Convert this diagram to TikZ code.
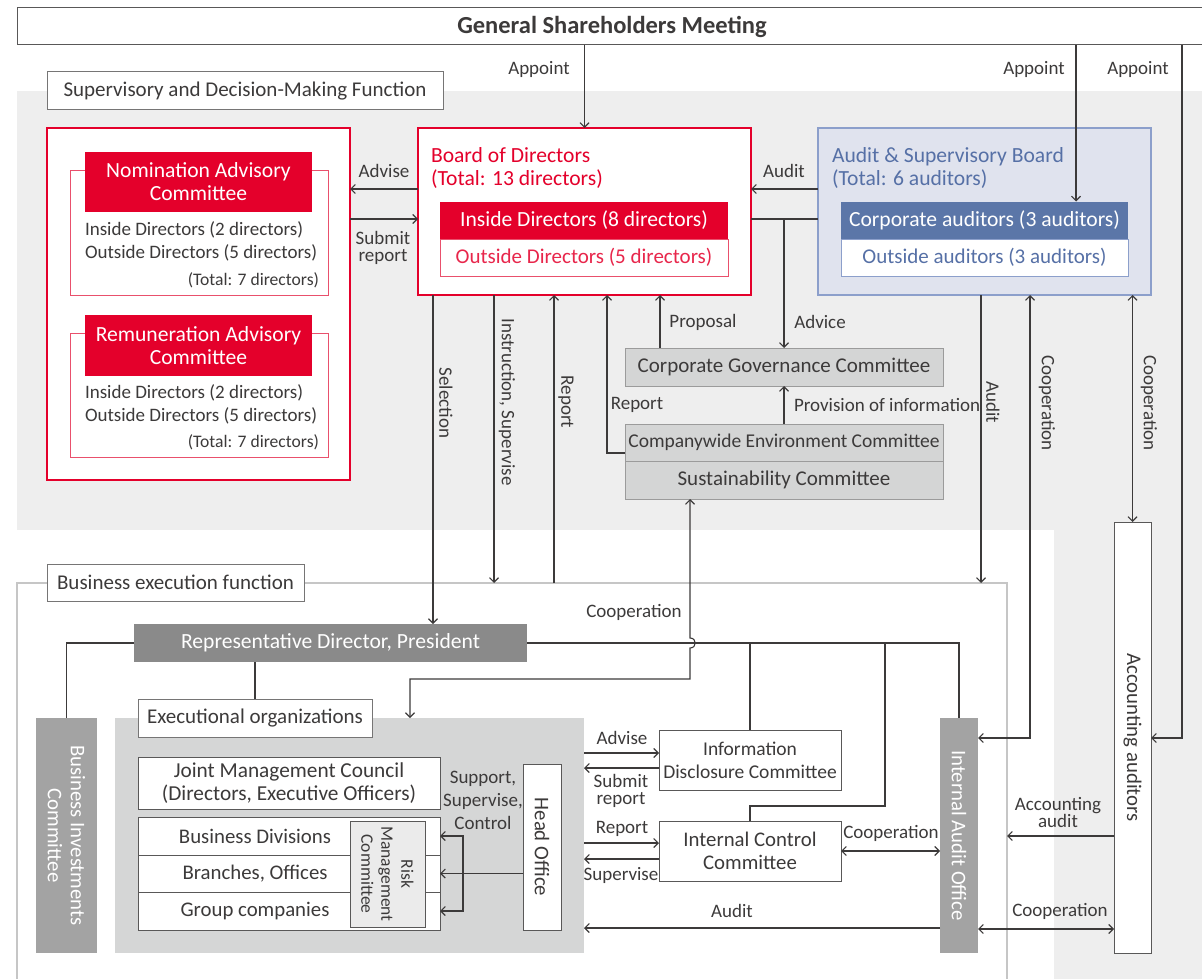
\documentclass[tikz,border=0pt]{standalone}
\usepackage{fontspec}
\setmainfont{Carlito}
\usetikzlibrary{arrows.meta}

\definecolor{ink}{HTML}{3C3A3A}
\definecolor{bggray}{HTML}{EEEEEE}
\definecolor{redc}{HTML}{E4002B}
\definecolor{redl}{HTML}{E9506C}
\definecolor{bluefill}{HTML}{E0E3EE}
\definecolor{blueline}{HTML}{8C9FCB}
\definecolor{bluetext}{HTML}{5670A6}
\definecolor{bluedark}{HTML}{5B76A8}
\definecolor{cmtfill}{HTML}{D4D5D5}
\definecolor{cmtline}{HTML}{9B9B9B}
\definecolor{repgray}{HTML}{8A8A8A}
\definecolor{sidegray}{HTML}{A3A3A3}
\definecolor{eofill}{HTML}{D5D6D6}
\definecolor{rmcfill}{HTML}{EBEBEB}
\definecolor{execline}{HTML}{C6C6C6}

\newcommand{\basefnt}{\fontsize{19}{23}\selectfont}
\newcommand{\midfnt}{\fontsize{20.8}{23}\selectfont}
\newcommand{\tagfnt}{\fontsize{21}{23}\selectfont}
\newcommand{\bigfnt}{\fontsize{21.6}{23}\selectfont}
\newcommand{\cmtfnt}{\fontsize{21}{23}\selectfont}
\newcommand{\smallfnt}{\fontsize{17.6}{19}\selectfont}
\newcommand{\tightfnt}{\fontsize{19}{17}\selectfont}
\newcommand{\rmcfnt}{\fontsize{17.5}{20}\selectfont}

\tikzset{
  every node/.style={font=\basefnt, text=ink, inner sep=0pt, outer sep=0pt},
  plainbox/.style={draw=ink!85, fill=white, line width=1pt, font=\midfnt},
  tagbox/.style={draw=ink!70, fill=white, line width=1pt, font=\tagfnt},
  redframe/.style={draw=redc, fill=white, line width=1.3pt},
  redbody/.style={draw=redl, fill=white, line width=1pt},
  redhead/.style={fill=redc, text=white, align=center, font=\bigfnt},
  bluebody/.style={draw=blueline, fill=white, line width=1pt, text=bluetext, font=\cmtfnt},
  bluehead/.style={fill=bluedark, text=white, font=\bigfnt},
  cmtbox/.style={draw=cmtline, fill=cmtfill, line width=1pt, font=\cmtfnt},
  darkbox/.style={fill=repgray, text=white, font=\bigfnt},
  sidebox/.style={fill=sidegray},
  sidetext/.style={text=white, rotate=-90, align=center, font=\midfnt},
  rottext/.style={rotate=-90, align=center, font=\midfnt},
  lbl/.style={align=center},
  vlbl/.style={rotate=-90},
  link/.style={draw=ink, line width=1.1pt},
  arr/.style={link, ->},
  arrs/.style={link, <->},
}

\begin{document}
\begin{tikzpicture}[x=1pt, y=-1pt, >={Straight Barb[length=4.5pt,width=9pt]}]
\useasboundingbox (0,0) rectangle (1202,979);

% areas
\fill[bggray] (17,91) rectangle (1202,530);
\fill[bggray] (1054,530) rectangle (1202,979);
\draw[execline, line width=2pt] (17,985) -- (17,583) -- (1007,583) -- (1007,985);
\coordinate (exectop) at (0,583);
\coordinate (execright) at (1007,0);

\node[plainbox, minimum width=1190, minimum height=37, font=\fontsize{24.5}{26}\selectfont\bfseries] (gsm) at (612,26.5) {General Shareholders Meeting};
\node[tagbox, minimum width=396, minimum height=38] (sdm) at (245,91) {Supervisory and Decision-Making Function};

% advisory committees
\node[redframe, minimum width=303, minimum height=352] (adv) at (198.5,304) {};
\node[redbody, minimum width=258, minimum height=125] (nom) at (199,232.5) {};
\node[redhead, minimum width=227, minimum height=60] (nomhead) at (198.5,182) {Nomination Advisory\\Committee};
\node[anchor=west] (nomin) at (85,230) {Inside Directors (2 directors)};
\node[anchor=west] (nomout) at (85,253) {Outside Directors (5 directors)};
\node[anchor=east, font=\smallfnt] (nomtot) at (319,280) {(Total: 7 directors)};
\node[redbody, minimum width=258, minimum height=124] (rem) at (199,395) {};
\node[redhead, minimum width=227, minimum height=61] (remhead) at (198.5,345.5) {Remuneration Advisory\\Committee};
\node[anchor=west] (remin) at (85,393) {Inside Directors (2 directors)};
\node[anchor=west] (remout) at (85,416) {Outside Directors (5 directors)};
\node[anchor=east, font=\smallfnt] (remtot) at (319,442) {(Total: 7 directors)};

% board of directors
\node[redframe, minimum width=333, minimum height=167] (bod) at (584.5,211.5) {};
\node[anchor=west, align=left, text=redc, font=\bigfnt] (bodtitle) at (431,167.5) {Board of Directors\\(Total: 13 directors)};
\node[redhead, minimum width=288, minimum height=38] (bodin) at (584,220.5) {Inside Directors (8 directors)};
\node[redbody, text=redc!85, font=\cmtfnt, minimum width=288, minimum height=37] (bodout) at (584,257.5) {Outside Directors (5 directors)};

% audit board
\node[draw=blueline, fill=bluefill, line width=1.2pt, minimum width=333, minimum height=167] (asb) at (984.5,211.5) {};
\node[anchor=west, align=left, text=bluetext, font=\bigfnt] (asbtitle) at (832,167.5) {Audit \& Supervisory Board\\(Total: 6 auditors)};
\node[bluehead, minimum width=287, minimum height=38] (ca) at (984.5,220.5) {Corporate auditors (3 auditors)};
\node[bluebody, minimum width=287, minimum height=37] (oa) at (984.5,257.5) {Outside auditors (3 auditors)};

% committees
\node[cmtbox, minimum width=318, minimum height=38] (cgc) at (784,367) {Corporate Governance Committee};
\node[cmtbox, font=\fontsize{19.5}{23}\selectfont, minimum width=318, minimum height=37] (cec) at (784,442.5) {Companywide Environment Committee};
\node[cmtbox, minimum width=318, minimum height=38] (sus) at (784,480) {Sustainability Committee};

% execution side
\node[tagbox, minimum width=257, minimum height=37] (bef) at (175.5,582.5) {Business execution function};
\node[darkbox, minimum width=393, minimum height=38] (rep) at (330.5,643) {Representative Director, President};
\node[fill=eofill, minimum width=469, minimum height=235] (eo) at (349.5,835.5) {};
\node[tagbox, minimum width=234, minimum height=38] (eotag) at (255,718) {Executional organizations};
\node[sidebox, minimum width=61, minimum height=235] (bic) at (66.5,835.5) {};
\node[sidetext] (bictxt) at (bic.center) {Business Investments\\Committee};
\node[plainbox, font=\fontsize{21.3}{23}\selectfont, minimum width=302, minimum height=52, align=center] (jmc) at (289,783) {Joint Management Council\\(Directors, Executive Officers)};
\node[plainbox, minimum width=302, minimum height=38] (bd) at (289,836) {};
\node[plainbox, minimum width=302, minimum height=37] (br) at (289,873.5) {};
\node[plainbox, minimum width=302, minimum height=38] (gc) at (289,911) {};
\node[font=\midfnt] (bdtxt) at (255,836) {Business Divisions};
\node[font=\midfnt] (brtxt) at (255,873.5) {Branches, Offices};
\node[font=\midfnt] (gctxt) at (255,911) {Group companies};
\node[plainbox, fill=rmcfill, minimum width=75, minimum height=106] (rmc) at (387.5,874) {};
\node[rottext, font=\rmcfnt] (rmctxt) at (rmc.center) {Risk\\Management\\Committee};
\node[plainbox, minimum width=38, minimum height=166] (ho) at (542,847) {};
\node[rottext] (hotxt) at (ho.center) {Head Office};
\node[lbl] (sup) at (483,800) {Support,\\Supervise,\\Control};

\node[plainbox, minimum width=182, minimum height=60, align=center, font=\fontsize{19.5}{23}\selectfont] (idc) at (750,760) {Information\\Disclosure Committee};
\node[plainbox, minimum width=182, minimum height=60, align=center] (icc) at (750,851) {Internal Control\\Committee};
\node[sidebox, minimum width=38, minimum height=235] (iao) at (959,835.5) {};
\node[sidetext] (iaotxt) at (iao.center) {Internal Audit Office};
\node[plainbox, minimum width=37, minimum height=431] (acc) at (1132.5,737.5) {};
\node[rottext] (acctxt) at (acc.center) {Accounting auditors};

% appointments
\draw[arr] (gsm.south -| bod.north) -- (bod.north);
\node (ap1) at (539,69) {Appoint};
\draw[arr] (gsm.south -| 1076,0) -- (ca.north -| 1076,0);
\node (ap2) at (1034,69) {Appoint};
\draw[arr] (gsm.south -| 1182,0) |- (acc.east |- 0,738);
\node (ap3) at (1138,69) {Appoint};

% around the board
\draw[arr] (bod.west |- 0,189) -- (adv.east |- 0,189);
\node (advise1) at (384,171) {Advise};
\draw[arr] (adv.east |- 0,219) -- (bod.west |- 0,219);
\node[lbl, font=\tightfnt] (submit1) at (383,248) {Submit\\report};
\draw[arr] (asb.west |- 0,189) -- (bod.east |- 0,189);
\node (audit1) at (784,171) {Audit};
\draw[link] (bod.east |- 0,219) -- (asb.west |- 0,219);
\draw[arr] (cgc.north |- 0,219) -- (cgc.north);
\node (advice) at (820,322) {Advice};
\draw[arr] (cgc.north -| 660,0) -- (bod.south -| 660,0);
\node (proposal) at (703,322) {Proposal};
\draw[arr] (cec.north) -- (cgc.south);
\node[anchor=west] (provinfo) at (794,405) {Provision of information};
\draw[arr] (cec.west |- 0,453) -| (bod.south -| 607,0);
\node (report2) at (637,405) {Report};

% down to execution
\draw[arr] (bod.south -| 433,0) -- (rep.north -| 433,0);
\node[vlbl] (selection) at (446,403) {Selection};
\draw[arr] (bod.south -| 494,0) -- (exectop -| 494,0);
\node[vlbl] (instr) at (507,402) {Instruction, Supervise};
\draw[arr] (exectop -| 554,0) -- (bod.south -| 554,0);
\node[vlbl] (report1) at (566,402) {Report};
\draw[arr] (asb.south -| 981,0) -- (exectop -| 981,0);
\node[vlbl] (audit2) at (993,402) {Audit};
\draw[arrs] (asb.south -| 1030,0) |- (iao.east |- 0,738);
\node[vlbl] (coop1) at (1047,403) {Cooperation};
\draw[arrs] (asb.south -| acc.north) -- (acc.north);
\node[vlbl] (coop2) at (1149,403) {Cooperation};

% president
\draw[link] (rep.west) -| (bic.north);
\draw[link] (rep.south -| eotag.north) -- (eotag.north);
\draw[link] (rep.east) -| (iao.north);
\draw[link] (idc.north |- rep.east) -- (idc.north);
\draw[link] (icc.north) -- ++(0,-15) -| (885,643);
\draw[arrs] (eo.north -| 410,0) |- (690,679) -- (690,648) .. controls (697,648) and (697,638) .. (690,638) -- (sus.south -| 690,0);
\node (coop3) at (634,612) {Cooperation};

% inside execution
\draw[arr] (ho.west |- br.east) -- (br.east);
\draw[arrs] (bd.east) -| (463,873.5) |- (gc.east);
\draw[arr] (eo.east |- 0,753) -- (idc.west |- 0,753);
\node (advise2) at (622,738) {Advise};
\draw[arr] (idc.west |- 0,768) -- (eo.east |- 0,768);
\node[lbl, font=\tightfnt] (submit2) at (621,791) {Submit\\report};
\draw[arr] (eo.east |- 0,843) -- (icc.west |- 0,843);
\node (report3) at (622,829) {Report};
\draw[arr] (icc.west |- 0,859) -- (eo.east |- 0,859);
\node (supervise) at (621,875) {Supervise};
\draw[arrs] (icc.east) -- (iao.west |- icc.east);
\node (coop4) at (891,833) {Cooperation};
\draw[arr] (iao.west |- 0,928) -- (eo.east |- 0,928);
\node (audit3) at (732,911) {Audit};
\draw[arr] (acc.west |- 0,836) -- (execright |- 0,836);
\node[lbl, font=\tightfnt] (acctaudit) at (1058,812) {Accounting\\audit};
\draw[arrs] (iao.east |- 0,929) -- (acc.west |- 0,929);
\node (coop5) at (1060,911) {Cooperation};
\end{tikzpicture}
\end{document}
